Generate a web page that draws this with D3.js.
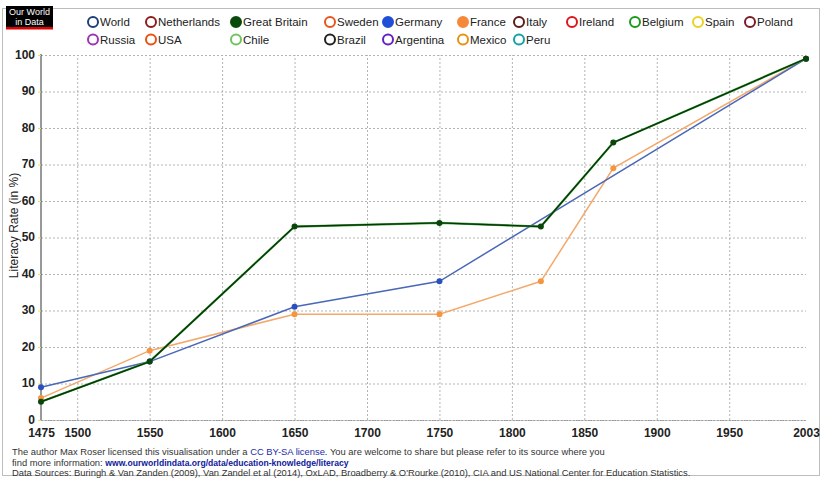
<!DOCTYPE html>
<html>
<head>
<meta charset="utf-8">
<script src="https://cdn.jsdelivr.net/npm/d3@7"></script>
<style>
  body { margin: 0; background: #fff; font-family: Arial, "Liberation Sans", sans-serif; }
  svg text { font-family: Arial, "Liberation Sans", sans-serif; }
</style>
</head>
<body>
<div id="chart"></div>
<script>
var width = 823, height = 478;
var margin = { top: 55, right: 15, bottom: 58, left: 41 };

// data
var xTicks = [1475, 1500, 1550, 1600, 1650, 1700, 1750, 1800, 1850, 1900, 1950, 2003];
var yTicks = [0, 10, 20, 30, 40, 50, 60, 70, 80, 90, 100];

var worldYears = [1475, 1550, 1650, 1750, 2003];
var worldValues = [9, 16, 31, 38, 99];
var franceYears = [1475, 1550, 1650, 1750, 1820, 1870, 2003];
var franceValues = [6, 19, 29, 29, 38, 69, 99];
var britainYears = [1475, 1550, 1650, 1750, 1820, 1870, 2003];
var britainValues = [5, 16, 53, 54, 53, 76, 99];

var legendRow1 = ["World", "Netherlands", "Great Britain", "Sweden", "Germany", "France", "Italy", "Ireland", "Belgium", "Spain", "Poland"];
var legendRow2 = ["Russia", "USA", "Chile", "Brazil", "Argentina", "Mexico", "Peru"];
var legendColors = {
  "World": "#1d3f7a", "Netherlands": "#8b1c1c", "Great Britain": "#0a4a0a", "Sweden": "#e8541e",
  "Germany": "#1f4fd6", "France": "#f5893a", "Italy": "#5c1a1a", "Ireland": "#e0141c",
  "Belgium": "#1a9a1a", "Spain": "#ecd21e", "Poland": "#7a1a26", "Russia": "#a032b4",
  "USA": "#e8520e", "Chile": "#72c262", "Brazil": "#222222", "Argentina": "#6222c4",
  "Mexico": "#e8920e", "Peru": "#12a2a6"
};
var legendFilled = ["Great Britain", "Germany", "France"];
var legendCols = [93, 151, 236, 330, 388, 463, 519, 572, 635, 698, 750];

var svg = d3.select("#chart")
  .append("svg")
  .attr("width", width)
  .attr("height", height);

// frame
svg.append("rect")
  .attr("x", 2.5).attr("y", 8.5)
  .attr("width", 817).attr("height", 467)
  .attr("fill", "none")
  .attr("stroke", "#bdbdbd");

// logo
svg.append("rect").attr("x", 6).attr("y", 6).attr("width", 47).attr("height", 21).attr("fill", "#000");
svg.append("rect").attr("x", 6).attr("y", 27).attr("width", 47).attr("height", 2.5).attr("fill", "#e00000");
svg.append("text").attr("x", 29.5).attr("y", 15).attr("text-anchor", "middle")
  .style("font-size", "9px").style("fill", "#fff").text("Our World");
svg.append("text").attr("x", 29.5).attr("y", 24.5).attr("text-anchor", "middle")
  .style("font-size", "9px").style("fill", "#fff").text("in Data");

var xScale = d3.scaleLinear()
  .domain([1475, 2003])
  .range([margin.left, width - margin.right - 2]);

var yScale = d3.scaleLinear()
  .domain([0, 100])
  .range([height - margin.bottom, margin.top]);

// Y grid
var yGrid = d3.axisLeft(yScale)
  .tickValues(yTicks)
  .tickSize(-(xScale(2003) - margin.left))
  .tickFormat('');

svg.append("g")
  .attr("class", "grid")
  .attr("transform", `translate(${margin.left},0)`)
  .call(yGrid)
  .call(g => g.select(".domain").remove())
  .selectAll("line")
  .attr("stroke", "#b4b4b4")
  .attr("stroke-dasharray", "2,2");

// X grid
var xGrid = d3.axisBottom(xScale)
  .tickValues(xTicks.filter(d => d !== 1475 && d !== 2003))
  .tickSize(-(yScale(0) - yScale(100)))
  .tickFormat('');

svg.append("g")
  .attr("class", "grid")
  .attr("transform", `translate(0,${yScale(0)})`)
  .call(xGrid)
  .call(g => g.select(".domain").remove())
  .selectAll("line")
  .attr("stroke", "#b4b4b4")
  .attr("stroke-dasharray", "2,2");

// Y axis
var yAxis = d3.axisLeft(yScale)
  .tickValues(yTicks)
  .tickSize(3)
  .tickPadding(3);

svg.append("g")
  .attr("class", "y-axis")
  .attr("transform", `translate(${margin.left},0)`)
  .call(yAxis)
  .call(g => g.select(".domain").attr("stroke", "#333").attr("d", `M0,${yScale(100) - 1}V${yScale(0)}`))
  .call(g => g.selectAll(".tick line").attr("stroke", "#e8e060"))
  .call(g => g.selectAll(".tick text").attr("dy", "0.25em"))
  .selectAll("text")
  .style("font-size", "12px")
  .style("font-weight", "bold")
  .style("fill", "#222");

// X axis
var xAxis = d3.axisBottom(xScale)
  .tickValues(xTicks)
  .tickSize(0)
  .tickPadding(8)
  .tickFormat(d => d);

svg.append("g")
  .attr("class", "x-axis")
  .attr("transform", `translate(0,${yScale(0)})`)
  .call(xAxis)
  .call(g => g.select(".domain").attr("stroke", "#999").attr("stroke-dasharray", "2,1"))
  .selectAll("text")
  .style("font-size", "12px")
  .style("font-weight", "bold")
  .style("fill", "#222");

svg.append("text")
  .attr("text-anchor", "middle")
  .attr("transform", `translate(18,${yScale(50) - 12}) rotate(-90)`)
  .style("font-size", "12px")
  .style("fill", "#222")
  .text("Literacy Rate (in %)");

// series
var line = d3.line()
  .x(d => xScale(d[0]))
  .y(d => yScale(d[1]));

function drawSeries(years, values, color, w, dotColor) {
  var pts = years.map((y, i) => [y, values[i]]);
  svg.append("path")
    .datum(pts)
    .attr("d", line)
    .attr("fill", "none")
    .attr("stroke", color)
    .attr("stroke-width", w);
  svg.selectAll(null)
    .data(pts)
    .enter()
    .append("circle")
    .attr("cx", d => xScale(d[0]))
    .attr("cy", d => yScale(d[1]))
    .attr("r", 3)
    .attr("fill", dotColor);
}

drawSeries(franceYears, franceValues, "#f4a86a", 1.5, "#f5963f");
drawSeries(worldYears, worldValues, "#4a68b8", 1.5, "#2a50c0");

// Great Britain with light green halo
var gbPts = britainYears.map((y, i) => [y, britainValues[i]]);
svg.append("path")
  .datum(gbPts)
  .attr("d", line)
  .attr("fill", "none")
  .attr("stroke", "#3aa83a")
  .attr("stroke-width", 2.2);
drawSeries(britainYears, britainValues, "#0a350a", 1.4, "#0a450a");

// legend
function drawLegend(names, y) {
  var g = svg.append("g").attr("class", "legend");
  var items = g.selectAll("g")
    .data(names)
    .enter()
    .append("g")
    .attr("transform", (d, i) => `translate(${legendCols[i]},${y})`);
  items.append("circle")
    .attr("r", 5)
    .attr("fill", d => legendFilled.includes(d) ? legendColors[d] : "#fff")
    .attr("stroke", d => legendColors[d])
    .attr("stroke-width", 2);
  items.append("text")
    .attr("x", 7)
    .attr("y", 4)
    .style("font-size", "11.5px")
    .style("fill", "#222")
    .text(d => d);
}
drawLegend(legendRow1, 22);
drawLegend(legendRow2, 39.5);

// footer
var foot = svg.append("g").style("font-size", "9.4px").style("fill", "#333");
var t1 = foot.append("text").attr("x", 12).attr("y", 455);
t1.append("tspan").text("The author Max Roser licensed this visualisation under a ");
t1.append("tspan").style("fill", "#1a2aa8").text("CC BY-SA license");
t1.append("tspan").text(". You are welcome to share but please refer to its source where you");
var t2 = foot.append("text").attr("x", 12).attr("y", 465.5);
t2.append("tspan").text("find more information: ");
t2.append("tspan").style("fill", "#10209a").style("font-weight", "bold").style("font-size", "8.6px")
  .text("www.ourworldindata.org/data/education-knowledge/literacy");
foot.append("text").attr("x", 12).attr("y", 476)
  .text("Data Sources: Buringh & Van Zanden (2009), Van Zandel et al (2014), OxLAD, Broadberry & O'Rourke (2010), CIA and US National Center for Education Statistics.");
</script>
</body>
</html>
